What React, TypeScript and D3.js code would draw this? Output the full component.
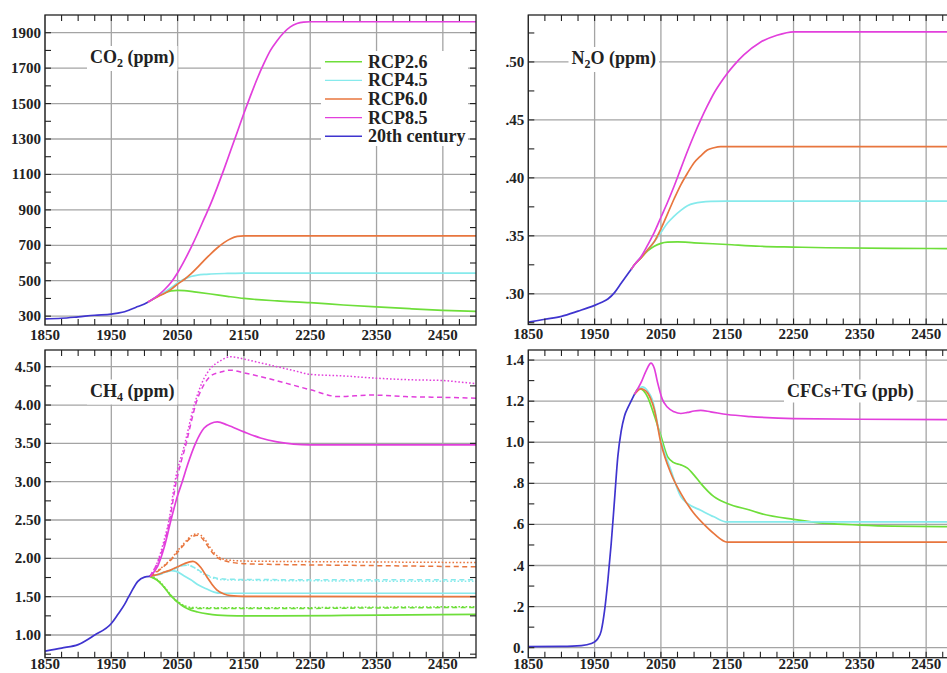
import * as d3 from "d3";
import React, { useEffect, useRef } from "react";

type Pt = [number, number];

// shared x axis (years)
const yearTicks = [1850, 1950, 2050, 2150, 2250, 2350, 2450];
const yearLabels = ["1850", "1950", "2050", "2150", "2250", "2350", "2450"];

const seriesNames = ["RCP2.6", "RCP4.5", "RCP6.0", "RCP8.5", "20th century"];
const seriesColors = ["#6ede3a", "#86eaec", "#e8763e", "#e23fdc", "#3f34cf"];

// CO2 (ppm)
const co2Ticks = [300, 500, 700, 900, 1100, 1300, 1500, 1700, 1900];
const co2Labels = ["300", "500", "700", "900", "1100", "1300", "1500", "1700", "1900"];
const co2Hist: Pt[] = [[1850, 285], [1875, 288], [1900, 296], [1925, 305], [1950, 311], [1960, 317], [1970, 325], [1980, 339], [1990, 354], [2000, 369], [2005, 379]];
const co2Rcp26: Pt[] = [[2005, 379], [2010, 389], [2020, 412], [2030, 431], [2040, 443], [2050, 446], [2060, 444], [2075, 437], [2100, 425], [2125, 412], [2150, 400], [2200, 386], [2250, 376], [2300, 363], [2350, 352], [2400, 342], [2450, 333], [2500, 327]];
const co2Rcp45: Pt[] = [[2005, 379], [2010, 390], [2020, 412], [2030, 435], [2040, 460], [2050, 487], [2060, 509], [2070, 524], [2080, 532], [2090, 536], [2100, 538], [2125, 541], [2150, 543], [2500, 543]];
const co2Rcp60: Pt[] = [[2005, 379], [2010, 390], [2020, 410], [2030, 428], [2040, 451], [2050, 481], [2060, 507], [2070, 538], [2080, 575], [2090, 615], [2100, 652], [2110, 686], [2120, 715], [2130, 737], [2140, 750], [2150, 753], [2500, 753]];
const co2Rcp85: Pt[] = [[2005, 379], [2010, 390], [2020, 416], [2030, 449], [2040, 490], [2050, 545], [2060, 612], [2070, 685], [2080, 765], [2090, 850], [2100, 935], [2110, 1030], [2120, 1130], [2130, 1235], [2140, 1340], [2150, 1445], [2160, 1545], [2170, 1640], [2180, 1725], [2190, 1800], [2200, 1855], [2210, 1900], [2220, 1933], [2230, 1952], [2240, 1960], [2250, 1962], [2500, 1962]];

// N2O (ppm)
const n2oTicks = [0.3, 0.35, 0.4, 0.45, 0.5];
const n2oLabels = [".30", ".35", ".40", ".45", ".50"];
const n2oHist: Pt[] = [[1850, 0.2755], [1875, 0.278], [1900, 0.2805], [1925, 0.285], [1950, 0.29], [1960, 0.2925], [1970, 0.2955], [1980, 0.301], [1990, 0.309], [2000, 0.317], [2005, 0.321]];
const n2oRcp26: Pt[] = [[2005, 0.321], [2010, 0.325], [2020, 0.331], [2030, 0.337], [2040, 0.341], [2050, 0.3435], [2060, 0.3445], [2075, 0.3447], [2100, 0.344], [2150, 0.3425], [2200, 0.341], [2250, 0.3403], [2300, 0.3397], [2400, 0.3392], [2500, 0.339]];
const n2oRcp45: Pt[] = [[2005, 0.321], [2010, 0.325], [2020, 0.332], [2030, 0.338], [2040, 0.345], [2050, 0.353], [2060, 0.361], [2070, 0.367], [2080, 0.372], [2090, 0.376], [2100, 0.378], [2125, 0.3797], [2150, 0.38], [2500, 0.38]];
const n2oRcp60: Pt[] = [[2005, 0.321], [2010, 0.325], [2020, 0.331], [2030, 0.338], [2040, 0.345], [2050, 0.356], [2060, 0.369], [2070, 0.382], [2080, 0.394], [2090, 0.404], [2100, 0.413], [2110, 0.419], [2120, 0.424], [2130, 0.426], [2140, 0.427], [2150, 0.427], [2500, 0.427]];
const n2oRcp85: Pt[] = [[2005, 0.321], [2010, 0.325], [2020, 0.332], [2030, 0.342], [2040, 0.353], [2050, 0.366], [2060, 0.379], [2070, 0.393], [2080, 0.408], [2090, 0.423], [2100, 0.437], [2110, 0.45], [2120, 0.462], [2130, 0.473], [2140, 0.482], [2150, 0.49], [2160, 0.497], [2175, 0.506], [2200, 0.517], [2225, 0.523], [2250, 0.526], [2500, 0.526]];

// CH4 (ppm): solid, dashed and dotted variants per scenario
const ch4Ticks = [1, 1.5, 2, 2.5, 3, 3.5, 4, 4.5];
const ch4Labels = ["1.00", "1.50", "2.00", "2.50", "3.00", "3.50", "4.00", "4.50"];
const ch4Hist: Pt[] = [[1850, 0.79], [1875, 0.83], [1900, 0.875], [1925, 1.0], [1950, 1.15], [1960, 1.27], [1970, 1.4], [1975, 1.48], [1980, 1.56], [1990, 1.7], [2000, 1.755], [2008, 1.765]];
const ch4Rcp26: Pt[] = [[2008, 1.765], [2020, 1.71], [2030, 1.62], [2040, 1.51], [2050, 1.43], [2060, 1.365], [2070, 1.325], [2080, 1.3], [2095, 1.275], [2110, 1.26], [2140, 1.25], [2200, 1.25], [2300, 1.255], [2400, 1.262], [2500, 1.27]];
const ch4Rcp26Dash: Pt[] = [[2008, 1.765], [2020, 1.71], [2030, 1.62], [2040, 1.51], [2050, 1.43], [2060, 1.375], [2070, 1.35], [2100, 1.345], [2200, 1.345], [2300, 1.35], [2400, 1.355], [2500, 1.36]];
const ch4Rcp26Dot: Pt[] = [[2008, 1.765], [2020, 1.72], [2030, 1.63], [2040, 1.52], [2050, 1.44], [2060, 1.385], [2070, 1.36], [2100, 1.355], [2200, 1.355], [2300, 1.36], [2400, 1.365], [2500, 1.37]];
const ch4Rcp45: Pt[] = [[2008, 1.765], [2020, 1.79], [2030, 1.82], [2040, 1.84], [2048, 1.83], [2060, 1.77], [2070, 1.72], [2080, 1.66], [2094, 1.6], [2105, 1.56], [2115, 1.545], [2150, 1.545], [2500, 1.545]];
const ch4Rcp45Dash: Pt[] = [[2008, 1.765], [2020, 1.78], [2030, 1.81], [2045, 1.86], [2055, 1.9], [2065, 1.91], [2075, 1.88], [2090, 1.8], [2105, 1.75], [2120, 1.73], [2150, 1.725], [2300, 1.72], [2500, 1.72]];
const ch4Rcp45Dot: Pt[] = [[2008, 1.765], [2020, 1.785], [2030, 1.815], [2045, 1.865], [2055, 1.9], [2065, 1.915], [2075, 1.88], [2090, 1.79], [2105, 1.74], [2120, 1.72], [2150, 1.715], [2300, 1.705], [2500, 1.7]];
const ch4Rcp60: Pt[] = [[2008, 1.765], [2020, 1.79], [2030, 1.82], [2040, 1.85], [2050, 1.89], [2060, 1.93], [2073, 1.96], [2085, 1.88], [2094, 1.76], [2102, 1.66], [2109, 1.59], [2120, 1.535], [2130, 1.515], [2150, 1.505], [2500, 1.5]];
const ch4Rcp60Dash: Pt[] = [[2008, 1.765], [2020, 1.83], [2030, 1.9], [2040, 1.98], [2050, 2.08], [2060, 2.18], [2070, 2.27], [2080, 2.3], [2090, 2.23], [2100, 2.1], [2110, 2.01], [2125, 1.96], [2150, 1.93], [2200, 1.92], [2300, 1.91], [2400, 1.9], [2500, 1.89]];
const ch4Rcp60Dot: Pt[] = [[2008, 1.765], [2020, 1.84], [2030, 1.91], [2040, 1.99], [2050, 2.1], [2060, 2.2], [2070, 2.29], [2080, 2.32], [2090, 2.26], [2100, 2.13], [2110, 2.03], [2125, 1.98], [2150, 1.965], [2200, 1.96], [2300, 1.955], [2400, 1.95], [2500, 1.945]];
const ch4Rcp85: Pt[] = [[2008, 1.765], [2020, 1.9], [2030, 2.15], [2040, 2.5], [2050, 2.82], [2057, 3.0], [2065, 3.22], [2077, 3.5], [2090, 3.7], [2100, 3.76], [2110, 3.78], [2125, 3.74], [2150, 3.65], [2175, 3.57], [2200, 3.52], [2225, 3.49], [2250, 3.48], [2500, 3.48]];
const ch4Rcp85Dash: Pt[] = [[2008, 1.765], [2020, 1.95], [2030, 2.2], [2038, 2.5], [2048, 3.0], [2055, 3.25], [2063, 3.5], [2070, 3.76], [2077, 4.0], [2090, 4.27], [2100, 4.38], [2115, 4.43], [2130, 4.455], [2150, 4.42], [2194, 4.33], [2250, 4.2], [2293, 4.11], [2343, 4.13], [2393, 4.11], [2450, 4.1], [2500, 4.09]];
const ch4Rcp85Dot: Pt[] = [[2008, 1.765], [2020, 1.96], [2030, 2.25], [2037, 2.5], [2046, 3.0], [2061, 3.5], [2075, 4.0], [2090, 4.35], [2100, 4.48], [2115, 4.58], [2130, 4.63], [2150, 4.6], [2175, 4.55], [2200, 4.5], [2225, 4.45], [2250, 4.4], [2300, 4.38], [2350, 4.35], [2400, 4.33], [2450, 4.32], [2475, 4.3], [2500, 4.28]];

// CFCs + trace gases (ppb)
const cfcTicks = [0, 0.2, 0.4, 0.6, 0.8, 1.0, 1.2, 1.4];
const cfcLabels = ["0.", ".2", ".4", ".6", ".8", "1.0", "1.2", "1.4"];
const cfcHist: Pt[] = [[1850, 0.005], [1900, 0.006], [1930, 0.01], [1945, 0.02], [1950, 0.028], [1955, 0.045], [1960, 0.082], [1965, 0.18], [1970, 0.327], [1975, 0.506], [1980, 0.718], [1985, 0.93], [1990, 1.053], [1995, 1.127], [2000, 1.167], [2005, 1.2], [2010, 1.233]];
const cfcRcp26: Pt[] = [[2010, 1.233], [2017, 1.262], [2030, 1.22], [2040, 1.13], [2050, 1.03], [2060, 0.93], [2070, 0.9], [2080, 0.89], [2090, 0.874], [2100, 0.84], [2110, 0.8], [2130, 0.735], [2150, 0.702], [2185, 0.669], [2200, 0.654], [2250, 0.625], [2300, 0.605], [2350, 0.597], [2400, 0.592], [2500, 0.589]];
const cfcRcp45: Pt[] = [[2010, 1.233], [2022, 1.27], [2030, 1.25], [2037, 1.208], [2050, 1.01], [2065, 0.865], [2080, 0.735], [2090, 0.702], [2110, 0.669], [2130, 0.637], [2150, 0.612], [2500, 0.612]];
const cfcRcp60: Pt[] = [[2010, 1.233], [2020, 1.26], [2025, 1.255], [2030, 1.24], [2040, 1.16], [2050, 0.996], [2065, 0.849], [2080, 0.751], [2100, 0.653], [2115, 0.6], [2130, 0.555], [2150, 0.514], [2500, 0.514]];
const cfcRcp85: Pt[] = [[2010, 1.233], [2020, 1.29], [2028, 1.35], [2035, 1.385], [2040, 1.36], [2045, 1.29], [2052, 1.21], [2060, 1.17], [2070, 1.148], [2080, 1.14], [2090, 1.145], [2100, 1.152], [2110, 1.155], [2125, 1.148], [2150, 1.135], [2185, 1.125], [2250, 1.115], [2350, 1.112], [2500, 1.11]];

const DASH = "5,3.5";
const DOT = "1.6,2";

type Series = { data: Pt[]; color: string; dash?: string };
type Panel = {
  id: string;
  left: number; right: number; top: number; bottom: number;
  yDomain: [number, number];
  yTicks: number[]; yLabels: string[]; yMinorStep: number;
  title: [string, boolean][]; titleX: number; titleY: number;
  labelGap: number;
  series: Series[];
};

const c = seriesColors;
const panels: Panel[] = [
  {
    id: "co2", left: 45, right: 476, top: 15, bottom: 325, yDomain: [250, 2000],
    yTicks: co2Ticks, yLabels: co2Labels, yMinorStep: 100,
    title: [["CO", false], ["2", true], [" (ppm)", false]], titleX: 90, titleY: 63, labelGap: 14.5,
    series: [
      { data: co2Rcp26, color: c[0] }, { data: co2Rcp45, color: c[1] }, { data: co2Rcp60, color: c[2] },
      { data: co2Rcp85, color: c[3] }, { data: co2Hist, color: c[4] },
    ],
  },
  {
    id: "n2o", left: 528.3, right: 959.3, top: 15, bottom: 324.5, yDomain: [0.2735, 0.5405],
    yTicks: n2oTicks, yLabels: n2oLabels, yMinorStep: 0.025,
    title: [["N", false], ["2", true], ["O (ppm)", false]], titleX: 571.5, titleY: 64, labelGap: 14.5,
    series: [
      { data: n2oRcp26, color: c[0] }, { data: n2oRcp45, color: c[1] }, { data: n2oRcp60, color: c[2] },
      { data: n2oRcp85, color: c[3] }, { data: n2oHist, color: c[4] },
    ],
  },
  {
    id: "ch4", left: 45, right: 476, top: 350, bottom: 657.7, yDomain: [0.704, 4.718],
    yTicks: ch4Ticks, yLabels: ch4Labels, yMinorStep: 0.25,
    title: [["CH", false], ["4", true], [" (ppm)", false]], titleX: 90, titleY: 396.5, labelGap: 11.6,
    series: [
      { data: ch4Rcp26, color: c[0] }, { data: ch4Rcp26Dash, color: c[0], dash: DASH }, { data: ch4Rcp26Dot, color: c[0], dash: DOT },
      { data: ch4Rcp45, color: c[1] }, { data: ch4Rcp45Dash, color: c[1], dash: DASH }, { data: ch4Rcp45Dot, color: c[1], dash: DOT },
      { data: ch4Rcp60, color: c[2] }, { data: ch4Rcp60Dash, color: c[2], dash: DASH }, { data: ch4Rcp60Dot, color: c[2], dash: DOT },
      { data: ch4Rcp85, color: c[3] }, { data: ch4Rcp85Dash, color: c[3], dash: DASH }, { data: ch4Rcp85Dot, color: c[3], dash: DOT },
      { data: ch4Hist, color: c[4] },
    ],
  },
  {
    id: "cfc", left: 528.3, right: 959.3, top: 350, bottom: 657.7, yDomain: [-0.0487, 1.449],
    yTicks: cfcTicks, yLabels: cfcLabels, yMinorStep: 0.1,
    title: [["CFCs+TG (ppb)", false]], titleX: 787, titleY: 396.5, labelGap: 11.6,
    series: [
      { data: cfcRcp26, color: c[0] }, { data: cfcRcp45, color: c[1] }, { data: cfcRcp60, color: c[2] },
      { data: cfcRcp85, color: c[3] }, { data: cfcHist, color: c[4] },
    ],
  },
];

const FONT = "'Liberation Serif', 'Times New Roman', serif";

const App = () => {
  const svgRef = useRef<SVGSVGElement | null>(null);

  useEffect(() => {
    if (!svgRef.current) return;
    const svg = d3.select(svgRef.current);
    svg.selectAll("*").remove();

    panels.forEach((p) => {
      const x = d3.scaleLinear().domain([1850, 2500]).range([p.left, p.right]);
      const y = d3.scaleLinear().domain(p.yDomain).range([p.bottom, p.top]);
      const g = svg.append("g");

      g.append("clipPath").attr("id", "clip-" + p.id)
        .append("rect")
        .attr("x", p.left).attr("y", p.top)
        .attr("width", p.right - p.left).attr("height", p.bottom - p.top);

      // grid
      g.append("g").selectAll("line").data(yearTicks).join("line")
        .attr("x1", (d) => x(d)).attr("x2", (d) => x(d))
        .attr("y1", p.top).attr("y2", p.bottom)
        .attr("stroke", "#a4a4a4").attr("stroke-width", 1.3);
      g.append("g").selectAll("line").data(p.yTicks).join("line")
        .attr("x1", p.left).attr("x2", p.right)
        .attr("y1", (d) => y(d)).attr("y2", (d) => y(d))
        .attr("stroke", "#a4a4a4").attr("stroke-width", 1.3);

      // panel title with white box
      const tg = g.append("g");
      const title = tg.append("text")
        .attr("x", p.titleX).attr("y", p.titleY)
        .attr("font-family", FONT).attr("font-weight", "bold")
        .attr("font-size", 18).attr("fill", "#222");
      p.title.forEach(([t, sub], i) => {
        const ts = title.append("tspan").text(t);
        if (sub) ts.attr("font-size", 12).attr("dy", 4);
        else if (i > 0 && p.title[i - 1][1]) ts.attr("dy", -4);
      });
      const bb = (title.node() as SVGTextElement).getBBox();
      tg.insert("rect", "text")
        .attr("x", bb.x - 3).attr("y", bb.y - 1)
        .attr("width", bb.width + 6).attr("height", bb.height + 2)
        .attr("fill", "white");

      // series
      const line = d3.line<Pt>()
        .x((d) => x(d[0]))
        .y((d) => y(d[1]))
        .curve(d3.curveMonotoneX);
      g.append("g").attr("clip-path", `url(#clip-${p.id})`)
        .selectAll("path").data(p.series).join("path")
        .attr("d", (s) => line(s.data))
        .attr("fill", "none")
        .attr("stroke", (s) => s.color)
        .attr("stroke-width", (s) => (s.dash ? 1.5 : 1.7))
        .attr("stroke-dasharray", (s) => s.dash ?? null);

      // frame
      g.append("rect")
        .attr("x", p.left).attr("y", p.top)
        .attr("width", p.right - p.left).attr("height", p.bottom - p.top)
        .attr("fill", "none").attr("stroke", "#222").attr("stroke-width", 1.3);

      // ticks on all four sides
      const xMinor = d3.range(1875, 2500, 25);
      const [y0, y1] = p.yDomain;
      const yMinor = d3.range(Math.ceil(y0 / p.yMinorStep) * p.yMinorStep, y1, p.yMinorStep);
      const tick = g.append("g").attr("stroke", "#222").attr("stroke-width", 1.1);
      tick.selectAll(".xb").data(xMinor).join("line")
        .attr("x1", (d) => x(d)).attr("x2", (d) => x(d))
        .attr("y1", p.bottom).attr("y2", p.bottom - 6);
      tick.selectAll(".xt").data(xMinor).join("line")
        .attr("x1", (d) => x(d)).attr("x2", (d) => x(d))
        .attr("y1", p.top).attr("y2", p.top + 6);
      tick.selectAll(".yl").data(yMinor).join("line")
        .attr("x1", p.left).attr("x2", p.left + 6)
        .attr("y1", (d) => y(d)).attr("y2", (d) => y(d));
      tick.selectAll(".yr").data(yMinor).join("line")
        .attr("x1", p.right).attr("x2", p.right - 6)
        .attr("y1", (d) => y(d)).attr("y2", (d) => y(d));

      // axis labels
      g.append("g").selectAll("text").data(yearTicks).join("text")
        .attr("x", (d) => x(d)).attr("y", p.bottom + p.labelGap)
        .attr("text-anchor", "middle")
        .attr("font-family", FONT).attr("font-weight", "bold")
        .attr("font-size", 15).attr("fill", "#222")
        .text((d, i) => yearLabels[i]);
      g.append("g").selectAll("text").data(p.yTicks).join("text")
        .attr("x", p.left - 4).attr("y", (d) => y(d) + 5)
        .attr("text-anchor", "end")
        .attr("font-family", FONT).attr("font-weight", "bold")
        .attr("font-size", 15).attr("fill", "#222")
        .text((d, i) => p.yLabels[i]);
    });

    // legend in the CO2 panel
    const lg = svg.append("g");
    lg.append("rect").attr("x", 321).attr("y", 51).attr("width", 147).attr("height", 95).attr("fill", "white");
    const rows = lg.selectAll("g.row").data(seriesNames).join("g")
      .attr("transform", (d, i) => `translate(0, ${61.7 + i * 18.65})`);
    rows.append("line")
      .attr("x1", 325).attr("x2", 362).attr("y1", 0).attr("y2", 0)
      .attr("stroke", (d, i) => seriesColors[i]).attr("stroke-width", 1.4);
    rows.append("text")
      .attr("x", 368).attr("y", 6)
      .attr("font-family", FONT).attr("font-weight", "bold")
      .attr("font-size", 18).attr("fill", "#222")
      .text((d) => d);
  }, []);

  return (
    <div style={{ position: "absolute", left: 0, top: 0 }}>
      <svg ref={svgRef} width={947} height={673} style={{ display: "block", background: "white" }} />
    </div>
  );
};

export default App;
